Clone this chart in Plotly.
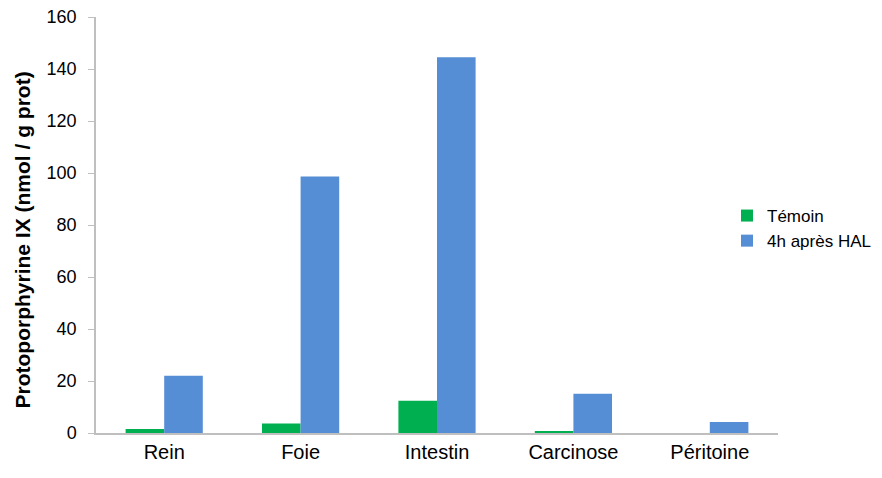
import plotly.graph_objects as go

categories = ["Rein", "Foie", "Intestin", "Carcinose", "Péritoine"]
temoin = [1.5, 3.7, 12.4, 0.8, 0]
apres_hal = [22.0, 98.7, 144.5, 15.1, 4.2]
series_names = ["Témoin", "4h après HAL"]
colors = ["#00B050", "#558ED5"]
y_ticks = [0, 20, 40, 60, 80, 100, 120, 140, 160]
y_title = "Protoporphyrine IX (nmol / g prot)"

# page body has an 8px default margin; figure sized to fit the window
W, H = 874, 470
L, T, PW, PH = 88, 9, 682, 416

fig = go.Figure()
for name, vals, col in zip(series_names, [temoin, apres_hal], colors):
    fig.add_trace(go.Bar(x=categories, y=vals, name=name,
                         marker=dict(color=col, line=dict(width=0))))

font = "Liberation Sans, Arial, sans-serif"
fig.update_layout(
    width=W, height=H,
    margin=dict(l=L, r=W - L - PW, t=T, b=H - T - PH, autoexpand=False),
    paper_bgcolor="white", plot_bgcolor="white",
    barmode="group", bargap=0.434, bargroupgap=0,
    font=dict(family=font, size=16, color="#000000"),
    showlegend=True,
    legend=dict(xref="container", yref="container",
                x=(727 - 8) / W, xanchor="left",
                y=1 - (198 - 8) / H, yanchor="top",
                font=dict(size=17, color="#000000"),
                itemwidth=30, tracegroupgap=0,
                bgcolor="rgba(0,0,0,0)"),
    xaxis=dict(showline=True, linecolor="#BFBFBF", linewidth=1.5,
               ticks="", showgrid=False, automargin=False,
               ticklabeloverflow="allow",
               tickfont=dict(size=20, color="#000000")),
    yaxis=dict(range=[0, 160], tickvals=y_ticks, automargin=False,
               showline=True, linecolor="#BFBFBF", linewidth=1.5,
               ticks="outside", ticklen=6, tickcolor="#BFBFBF",
               ticklabelstandoff=8, ticklabeloverflow="allow",
               showgrid=False, zeroline=False,
               tickfont=dict(size=18, color="#000000")),
    annotations=[dict(text="<b>" + y_title + "</b>", textangle=-90,
                      xref="paper", yref="paper",
                      x=(22 - 96) / PW, y=(433 - 240.5) / PH,
                      xanchor="center", yanchor="middle", showarrow=False,
                      font=dict(size=21, color="#000000"))],
)
fig.write_html("out.html")
